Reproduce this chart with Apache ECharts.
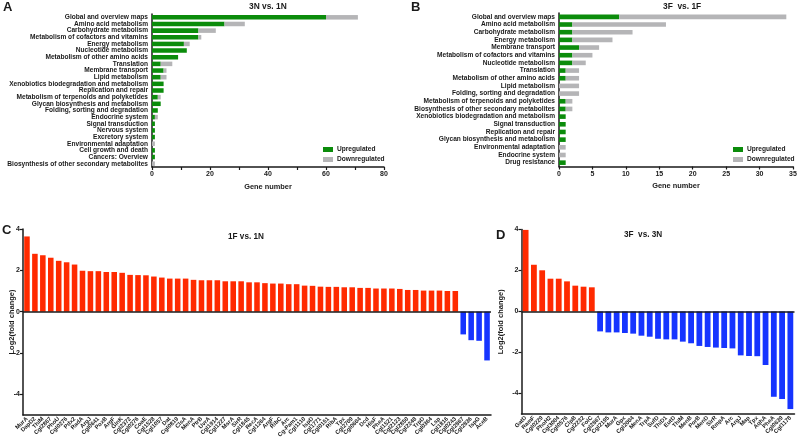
<!DOCTYPE html>
<html>
<head>
<meta charset="utf-8">
<script src="https://cdn.jsdelivr.net/npm/echarts@6/dist/echarts.min.js"></script>
<style>
  body { margin: 0; background: #fff; }
  #myChart { width: 798px; height: 445px; }
</style>
</head>
<body>
<div id="myChart"></div>
<script>
// panel A: 3N vs. 1N
let pathwaysA = ['Global and overview maps', 'Amino acid metabolism', 'Carbohydrate metabolism',
  'Metabolism of cofactors and vitamins', 'Energy metabolism', 'Nucleotide metabolism',
  'Metabolism of other amino acids', 'Translation', 'Membrane transport', 'Lipid metabolism',
  'Xenobiotics biodegradation and metabolism', 'Replication and repair',
  'Metabolism of terpenoids and polyketides', 'Glycan biosynthesis and metabolism',
  'Folding, sorting and degradation', 'Endocrine system', 'Signal transduction', 'Nervous system',
  'Excretory system', 'Environmental adaptation', 'Cell growth and death', 'Cancers: Overview',
  'Biosynthesis of other secondary metabolites']
let upA = [60, 25, 16, 16, 11, 12, 9, 3, 4, 3, 4, 4, 2, 3, 2, 1, 1, 1, 1, 0, 1, 1, 0]
let downA = [11, 7, 6, 1, 2, 0, 0, 4, 1, 2, 0, 0, 1, 0, 0, 1, 0, 0, 0, 1, 0, 0, 1]

// panel B: 3F vs. 1F
let pathwaysB = ['Global and overview maps', 'Amino acid metabolism', 'Carbohydrate metabolism',
  'Energy metabolism', 'Membrane transport', 'Metabolism of cofactors and vitamins',
  'Nucleotide metabolism', 'Translation', 'Metabolism of other amino acids', 'Lipid metabolism',
  'Folding, sorting and degradation', 'Metabolism of terpenoids and polyketides',
  'Biosynthesis of other secondary metabolites', 'Xenobiotics biodegradation and metabolism',
  'Signal transduction', 'Replication and repair', 'Glycan biosynthesis and metabolism',
  'Environmental adaptation', 'Endocrine system', 'Drug resistance']
let upB = [9, 2, 2, 2, 3, 2, 2, 1, 1, 0, 0, 1, 1, 1, 1, 1, 1, 0, 0, 1]
let downB = [25, 14, 9, 6, 3, 3, 2, 2, 2, 3, 3, 1, 1, 0, 0, 0, 0, 1, 1, 0]

// panel C: 1F vs. 1N
let genesC = ['MurA', 'DapD2', 'ThiM', 'Cgl2867', 'PhoU', 'Cgl0276', 'Pdx2', 'RadA', 'ArgJ', 'Cgl0641',
  'PoxB', 'ArgF', 'GlnK', 'Cgl2372', 'Cgl0276', 'CoaE', 'Cgl1528', 'Cgl1057', 'Dat', 'Cgl0819',
  'ClsA', 'MenA', 'PtrB', 'UvrA', 'Cgl1914', 'Cgl1227', 'MsrA', 'SirR', 'Cgl1845', 'RecA',
  'Cgl1264', 'ArgF', 'RibC', 'Arc', 'Cg-Pam1', 'Cgl1110', 'IspD', 'Cgl1771', 'Cgl0151', 'RibA',
  'Tpx', 'Cgl2709', 'Cgl0604', 'Dcd', 'HisF', 'PheA', 'Cgl1521', 'Cgl2123', 'Cgl2850', 'Cgl2248',
  'TrpD', 'Cgl0364', 'Lsp', 'Cgl1816', 'Cgl0243', 'Cgl2867', 'Cgl2836', 'IspG', 'AceB']
let foldC = [3.64, 2.80, 2.73, 2.61, 2.46, 2.39, 2.28, 1.98, 1.96, 1.96,
  1.92, 1.92, 1.88, 1.78, 1.77, 1.76, 1.70, 1.65, 1.60, 1.60,
  1.60, 1.54, 1.52, 1.52, 1.52, 1.47, 1.47, 1.47, 1.42, 1.42,
  1.38, 1.36, 1.36, 1.33, 1.33, 1.26, 1.25, 1.21, 1.20, 1.20,
  1.18, 1.18, 1.15, 1.15, 1.12, 1.12, 1.12, 1.10, 1.05, 1.05,
  1.02, 1.02, 1.02, 1.00, 1.00, -1.10, -1.38, -1.41, -2.36]

// panel D: 3F vs. 3N
let genesD = ['GatD', 'RamF', 'Cgl0229', 'PhoH2', 'Cgl3004', 'Cgl0576', 'ClpB', 'Cgl2232', 'FolC',
  'Cgl2867', 'Cgl2195', 'MurA', 'Gpx', 'Cgl2004', 'MenA', 'TrpA', 'SufD', 'ThiD1', 'EutD', 'ThiM',
  'MenB', 'PorB', 'MenD', 'SirR', 'RmpA', 'Arc', 'ArgJ', 'Map', 'Tpx', 'AqhA', 'PheA', 'Cgl0639',
  'Cgl1178']
let foldD = [3.98, 2.28, 2.01, 1.60, 1.60, 1.47, 1.26, 1.21, 1.18,
  -0.97, -1.02, -1.02, -1.05, -1.08, -1.18, -1.23, -1.33, -1.36, -1.36, -1.47,
  -1.55, -1.68, -1.73, -1.76, -1.78, -1.80, -2.14, -2.17, -2.18, -2.61, -4.16, -4.27, -4.76]

let logTicks = [-4, -2, 0, 2, 4]

let ink = '#1a1a1a'
let colors = { up: '#0b8c0b', down: '#b5b5b7', red: '#ff2a00', blue: '#1634ff' }
let font = 'Liberation Sans, Arial, sans-serif'

function pathwayAxis (grid, data) {
  return {
    type: 'category',
    gridIndex: grid,
    inverse: true,
    data: data,
    axisLine: { lineStyle: { color: ink, width: 1.5 } },
    axisTick: { alignWithLabel: true, length: 3, lineStyle: { color: ink, width: 1.2 } },
    axisLabel: { interval: 0, fontSize: 6.6, fontWeight: 'bold', color: ink, margin: 4, fontFamily: font }
  }
}

function countAxis (grid, max, interval, minor) {
  return {
    type: 'value',
    gridIndex: grid,
    min: 0,
    max: max,
    interval: interval,
    name: 'Gene number',
    nameLocation: 'middle',
    nameGap: 16,
    nameMoveOverlap: false,
    nameTextStyle: { fontSize: 7.4, fontWeight: 'bold', color: ink, fontFamily: font },
    splitLine: { show: false },
    axisLine: { show: true, lineStyle: { color: ink, width: 1.5 } },
    axisTick: { show: true, length: 3, lineStyle: { color: ink, width: 1.2 } },
    minorTick: { show: minor, splitNumber: 2, length: 3, lineStyle: { color: ink, width: 1.2 } },
    axisLabel: { fontSize: 7, fontWeight: 'bold', color: ink, margin: 4, fontFamily: font }
  }
}

function geneAxis (grid, data) {
  return {
    type: 'category',
    gridIndex: grid,
    data: data,
    axisLine: { onZero: false, lineStyle: { color: ink, width: 1.5 } },
    axisTick: { alignWithLabel: true, length: 3, lineStyle: { color: ink, width: 1.2 } },
    axisLabel: { interval: 0, rotate: 45, fontSize: 5.8, fontWeight: 'bold', color: ink, margin: 3, fontFamily: font }
  }
}

function foldAxis (grid, gap) {
  return {
    type: 'value',
    gridIndex: grid,
    min: -5,
    max: 4,
    name: 'Log2(fold change)',
    nameLocation: 'middle',
    nameGap: gap,
    nameMoveOverlap: false,
    nameTextStyle: { fontSize: 7.5, fontWeight: 'bold', color: ink, fontFamily: font },
    splitLine: { show: false },
    axisLine: { show: true, lineStyle: { color: ink, width: 1.5 } },
    axisTick: { show: true, length: 3, customValues: logTicks, lineStyle: { color: ink, width: 1.2 } },
    axisLabel: { customValues: logTicks, fontSize: 7, fontWeight: 'bold', color: ink, margin: 3, fontFamily: font }
  }
}

function foldSeries (name, axis, data) {
  return {
    name: name,
    type: 'bar',
    xAxisIndex: axis,
    yAxisIndex: axis,
    barCategoryGap: '30%',
    data: data,
    itemStyle: {
      color: function (p) { return p.value >= 0 ? colors.red : colors.blue }
    },
    markLine: {
      silent: true,
      symbol: ['none', 'none'],
      label: { show: false },
      lineStyle: { color: ink, width: 1.5, type: 'solid' },
      data: [{ yAxis: 0 }]
    }
  }
}

function heading (text, left, top, size) {
  return {
    text: text,
    left: left,
    top: top,
    padding: 0,
    textStyle: { fontSize: size, fontWeight: 'bold', color: ink, fontFamily: font }
  }
}

function legendAt (left) {
  return {
    left: left,
    top: 146,
    orient: 'vertical',
    padding: 0,
    itemWidth: 10,
    itemHeight: 5,
    itemGap: 3,
    icon: 'rect',
    data: ['Upregulated', 'Downregulated'],
    textStyle: { fontSize: 6.6, fontWeight: 'bold', color: ink, fontFamily: font, padding: [0, 0, 0, -1] }
  }
}

let myChart = echarts.init(document.getElementById('myChart'))

let option = {
  animation: false,
  color: [colors.up, colors.down],
  title: [
    heading('A', 3, 1, 13),
    heading('B', 411, 1, 13),
    heading('C', 2, 224, 13),
    heading('D', 496, 229, 13),
    heading('3N vs. 1N', 249, 3, 8.4),
    heading('3F  vs. 1F', 663, 3, 8.4),
    heading('1F vs. 1N', 228, 233, 8.2),
    heading('3F  vs. 3N', 624, 231, 8.2)
  ],
  legend: [legendAt(323), legendAt(733)],
  grid: [
    { left: 152, top: 14, width: 232, height: 153, outerBoundsMode: 'none' },
    { left: 559, top: 13, width: 234, height: 153.5, outerBoundsMode: 'none' },
    { left: 23, top: 229, width: 468, height: 186, outerBoundsMode: 'none' },
    { left: 521.5, top: 229.5, width: 273, height: 184.5, outerBoundsMode: 'none' }
  ],
  xAxis: [
    countAxis(0, 80, 20, true),
    countAxis(1, 35, 5, false),
    geneAxis(2, genesC),
    geneAxis(3, genesD)
  ],
  yAxis: [
    pathwayAxis(0, pathwaysA),
    pathwayAxis(1, pathwaysB),
    foldAxis(2, 7),
    foldAxis(3, 17)
  ],
  series: [
    { name: 'Upregulated', type: 'bar', stack: 'a', xAxisIndex: 0, yAxisIndex: 0, barCategoryGap: '32%', data: upA },
    { name: 'Downregulated', type: 'bar', stack: 'a', xAxisIndex: 0, yAxisIndex: 0, data: downA },
    { name: 'Upregulated', type: 'bar', stack: 'b', xAxisIndex: 1, yAxisIndex: 1, barCategoryGap: '40%', data: upB },
    { name: 'Downregulated', type: 'bar', stack: 'b', xAxisIndex: 1, yAxisIndex: 1, data: downB },
    foldSeries('1F vs. 1N', 2, foldC),
    foldSeries('3F vs. 3N', 3, foldD)
  ]
}
myChart.setOption(option, true)
</script>
</body>
</html>
